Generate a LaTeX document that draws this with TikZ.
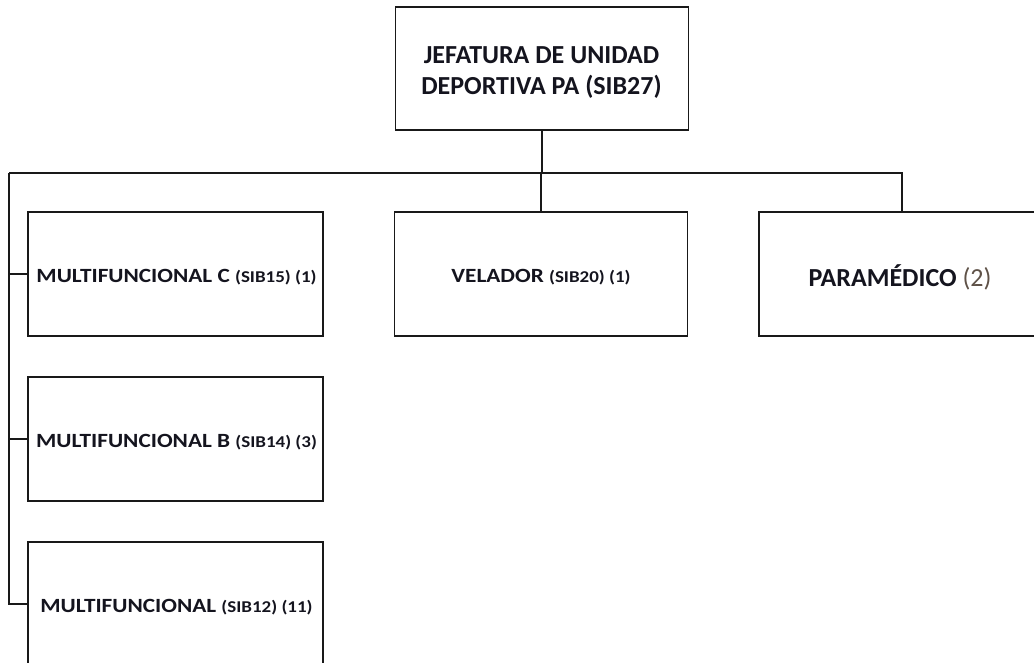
\documentclass[tikz,border=0pt]{standalone}
\usepackage{fontspec}
\setmainfont{Carlito}
\newfontfamily\boxfont[FakeStretch=1.15]{Carlito}
\definecolor{numgrey}{RGB}{95,82,72}
\definecolor{txt}{RGB}{20,20,30}
\begin{document}
\begin{tikzpicture}[x=1pt,y=-1pt,
  unit/.style={draw=black!90, line width=1.8pt, rectangle, minimum width=293pt, minimum height=124pt, inner sep=0pt},
  lbl/.style={inner sep=0pt, align=center, anchor=center, text=txt},
  conn/.style={draw=black!90, line width=1.8pt},
  big/.style={font=\fontsize{26}{31}\selectfont\bfseries},
  mid/.style={font=\boxfont\fontsize{20.2}{22}\selectfont\bfseries}]
\newcommand{\smtxt}[1]{{\fontsize{16.5}{18}\selectfont #1}}
\useasboundingbox (0,0) rectangle (1034,662);
\begin{scope}
\clip (0,0) rectangle (1034,662);
\node[unit, minimum height=123pt] (top) at (542,68.5) {};
\node[unit, minimum width=295pt] (mc) at (175.5,274) {};
\node[unit] (vel) at (541,274) {};
\node[unit] (par) at (905.5,274) {};
\node[unit, minimum width=295pt] (mb) at (175.5,439) {};
\node[unit, minimum width=295pt] (mm) at (175.5,604) {};
\end{scope}
\node[lbl, big] (topt) at (541.5,72.5) {JEFATURA DE UNIDAD\\DEPORTIVA PA (SIB27)};
\node[lbl, mid] (mct) at (176.5,277) {MULTIFUNCIONAL C \smtxt{(SIB15) (1)}};
\node[lbl, mid] (velt) at (541,277) {VELADOR \smtxt{(SIB20) (1)}};
\node[lbl, big] (part) at (900,277) {PARAMÉDICO {\mdseries\color{numgrey}(2)}};
\node[lbl, mid] (mbt) at (176.5,442) {MULTIFUNCIONAL B \smtxt{(SIB14) (3)}};
\node[lbl, mid] (mmt) at (176.5,607) {MULTIFUNCIONAL \smtxt{(SIB12) (11)}};
\coordinate (busL) at (9,173);
\draw[conn] (top.south) -- (top.south |- busL);
\draw[conn] (busL) -- (busL -| 902,0) -- (902,0 |- par.north);
\draw[conn] (vel.north) -- (vel.north |- busL);
\draw[conn] (busL) |- (mm.west);
\draw[conn] (mc.west) -- (mc.west -| busL);
\draw[conn] (mb.west) -- (mb.west -| busL);
\end{tikzpicture}
\end{document}
